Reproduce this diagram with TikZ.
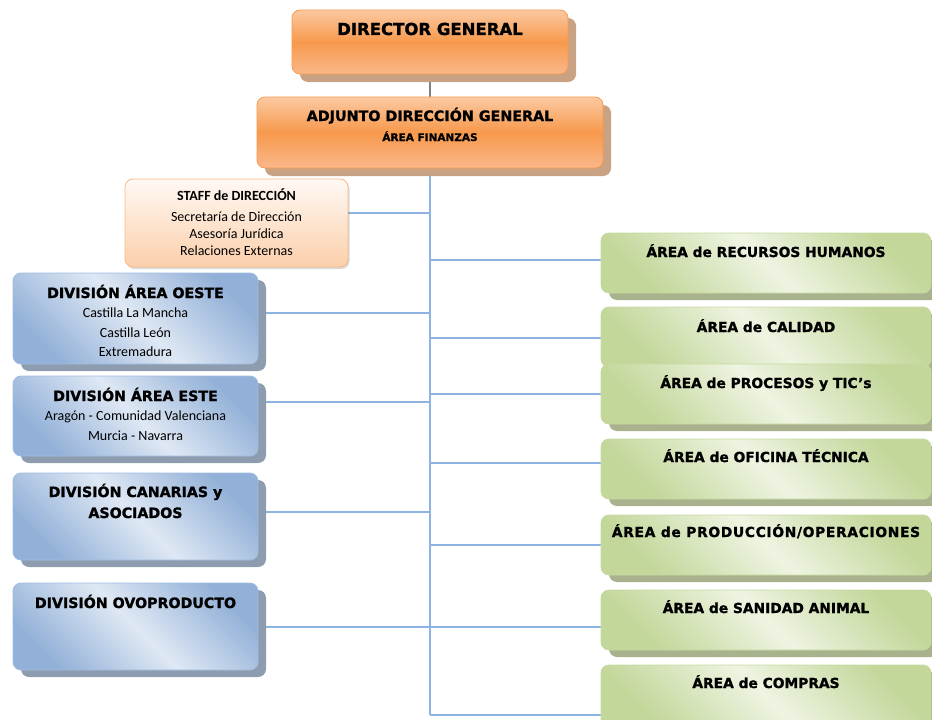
\documentclass[tikz,border=0pt]{standalone}
\usepackage{fontspec}
\setmainfont{Carlito}
\newfontfamily\vfont{DejaVu Sans}[BoldFeatures={FakeBold=1.3}]
\usetikzlibrary{shadows}
\pgfdeclarelayer{background}
\pgfsetlayers{background,main}
\definecolor{ortop}{HTML}{FBC9A2}
\definecolor{ormid}{HTML}{F7994C}
\definecolor{orbot}{HTML}{FAB88A}
\definecolor{orbd}{HTML}{F79A50}
\definecolor{orsh}{HTML}{C9A283}
\definecolor{sttop}{HTML}{FFF9F4}
\definecolor{stbot}{HTML}{FBCFAA}
\definecolor{stbd}{HTML}{F9B886}
\definecolor{bldark}{HTML}{93B1D8}
\definecolor{bllight}{HTML}{DFE8F4}
\definecolor{blbd}{HTML}{9FBDE0}
\definecolor{blsh}{HTML}{8D9CAE}
\definecolor{grdark}{HTML}{C3D79A}
\definecolor{grlight}{HTML}{EEF4E2}
\definecolor{grbd}{HTML}{C6D9A0}
\definecolor{grsh}{HTML}{A8B28C}
\definecolor{conncol}{HTML}{8EB4E3}
\definecolor{graycol}{HTML}{808080}
\newcommand\bxc[4]{\parbox[c][#2][t]{#1}{\centering\rule{0pt}{#3}#4}}
\newcommand\titf{\vfont\bfseries}
\tikzset{
  box/.style={inner sep=0pt, outer sep=0pt, rounded corners=8pt, line width=0.8pt, anchor=north west},
  obox/.style={box, draw=orbd, top color=ortop, bottom color=orbot, middle color=ormid,
    drop shadow={shadow xshift=8pt, shadow yshift=-8pt, fill=orsh, opacity=1}},
  sbox/.style={box, draw=stbd, top color=sttop, bottom color=stbot,
    drop shadow={shadow xshift=1.5pt, shadow yshift=-2pt, fill=black, opacity=0.15}},
  bbox/.style={box, draw=blbd, top color=bldark, bottom color=bldark, middle color=bllight, shading angle=135,
    drop shadow={shadow xshift=8pt, shadow yshift=-7pt, fill=blsh, opacity=1}},
  gbox/.style={box, draw=grbd, top color=grdark, bottom color=grdark, middle color=grlight, shading angle=135,
    drop shadow={shadow xshift=8pt, shadow yshift=-7pt, fill=grsh, opacity=1}},
  conn/.style={draw=conncol, line width=1.5pt},
  gconn/.style={draw=graycol, line width=1.3pt}
}
\begin{document}
\begin{tikzpicture}[x=1pt,y=-1pt]
\useasboundingbox (0,0) rectangle (932,720);
% top
\node[obox] (dg) at (292,10) {\bxc{276pt}{64pt}{25pt}{\titf\fontsize{16.5}{20}\selectfont DIRECTOR GENERAL}};
\node[obox] (adj) at (257,97) {\bxc{346pt}{71pt}{24pt}{\titf\fontsize{14.3}{17}\selectfont ADJUNTO DIRECCIÓN GENERAL\par\fontsize{10.5}{20}\selectfont ÁREA FINANZAS}};
\node[sbox] (staff) at (125,179) {\bxc{223pt}{88pt}{21.5pt}{\bfseries\fontsize{14}{17}\selectfont STAFF de DIRECCIÓN\par\vspace{4pt}\mdseries\fontsize{14}{17}\selectfont Secretaría de Dirección\\Asesoría Jurídica\\Relaciones Externas}};
% left
\node[bbox] (oeste) at (13,273) {\bxc{245pt}{91pt}{25pt}{\titf\fontsize{14.2}{17}\selectfont DIVISIÓN ÁREA OESTE\par\normalfont\fontsize{14}{19.5}\selectfont Castilla La Mancha\\Castilla León\\Extremadura}};
\node[bbox] (este) at (13,376) {\bxc{245pt}{80pt}{25pt}{\titf\fontsize{14.2}{17}\selectfont DIVISIÓN ÁREA ESTE\par\normalfont\fontsize{14}{19.5}\selectfont Aragón - Comunidad Valenciana\\Murcia - Navarra}};
\node[bbox] (canarias) at (13,473) {\bxc{245pt}{87pt}{24pt}{\titf\fontsize{14.2}{21}\selectfont DIVISIÓN CANARIAS y\\ASOCIADOS}};
\node[bbox] (ovo) at (13,583) {\bxc{245pt}{87pt}{25pt}{\titf\fontsize{14.2}{21}\selectfont DIVISIÓN OVOPRODUCTO}};
% right
\node[gbox] (rrhh) at (601,233) {\bxc{330pt}{60pt}{24pt}{\titf\fontsize{13.8}{17}\selectfont ÁREA de RECURSOS HUMANOS}};
\node[gbox] (calidad) at (601,307) {\bxc{330pt}{60pt}{25pt}{\titf\fontsize{13.8}{17}\selectfont ÁREA de CALIDAD}};
\node[gbox] (procesos) at (601,364) {\bxc{330pt}{60pt}{24pt}{\titf\fontsize{13.8}{17}\selectfont ÁREA de PROCESOS y TIC’s}};
\node[gbox] (oficina) at (601,439) {\bxc{330pt}{60pt}{23pt}{\titf\fontsize{13.8}{17}\selectfont ÁREA de OFICINA TÉCNICA}};
\node[gbox] (produccion) at (601,515) {\bxc{330pt}{60pt}{22pt}{\titf\fontsize{13.8}{17}\selectfont\addfontfeature{LetterSpace=5}ÁREA de PRODUCCIÓN/OPERACIONES}};
\node[gbox] (sanidad) at (601,590) {\bxc{330pt}{60pt}{23pt}{\titf\fontsize{13.8}{17}\selectfont ÁREA de SANIDAD ANIMAL}};
\node[gbox] (compras) at (601,665) {\bxc{330pt}{62pt}{23pt}{\titf\fontsize{13.8}{17}\selectfont ÁREA de COMPRAS}};
% connectors
\coordinate (tk) at (430,715);
\coordinate (cstaff) at ([yshift=-34pt]staff.north east);
\coordinate (coeste) at ([yshift=-40pt]oeste.north east);
\coordinate (ceste) at ([yshift=-26pt]este.north east);
\coordinate (ccan) at ([yshift=-39pt]canarias.north east);
\coordinate (covo) at ([yshift=-44pt]ovo.north east);
\coordinate (crrhh) at ([yshift=-27pt]rrhh.north west);
\coordinate (ccal) at ([yshift=-31pt]calidad.north west);
\coordinate (cproc) at ([yshift=-30pt]procesos.north west);
\coordinate (cofi) at ([yshift=-24pt]oficina.north west);
\coordinate (cprod) at ([yshift=-30pt]produccion.north west);
\coordinate (csan) at ([yshift=-37pt]sanidad.north west);
\coordinate (ccom) at ([yshift=-50pt]compras.north west);
\begin{pgfonlayer}{background}
\draw[gconn] (dg.south) -- (adj.north);
\draw[conn] (adj.south) -- (adj.south |- tk);
\foreach \c in {cstaff,coeste,ceste,ccan,covo,crrhh,ccal,cproc,cofi,cprod,csan,ccom}
  \draw[conn] (\c) -- (\c -| tk);
\end{pgfonlayer}
\end{tikzpicture}
\end{document}
